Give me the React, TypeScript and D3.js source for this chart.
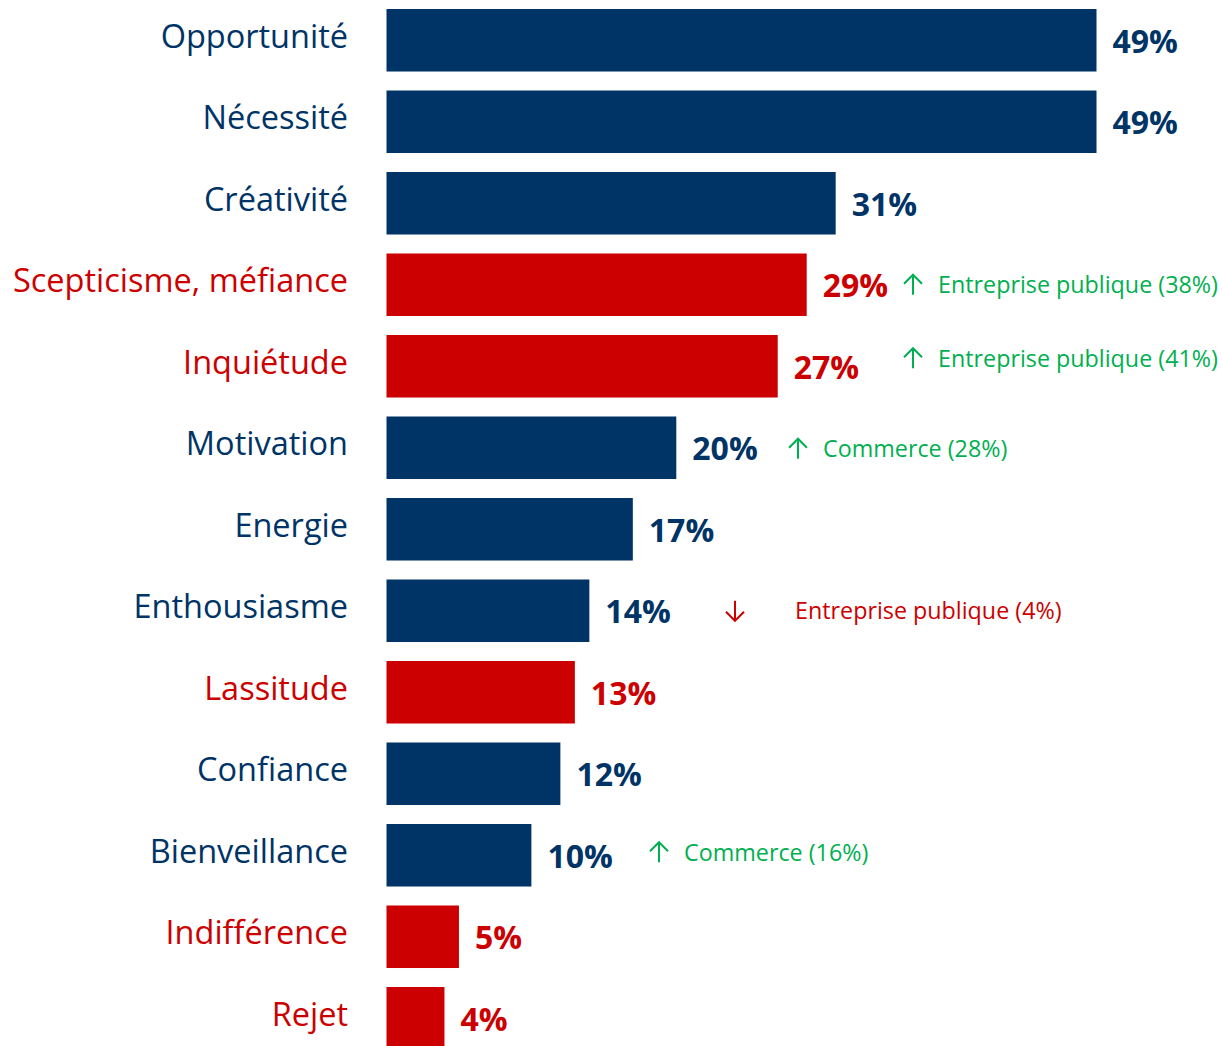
import React from "react";
import * as d3 from "d3";

const categories = [
  "Opportunité",
  "Nécessité",
  "Créativité",
  "Scepticisme, méfiance",
  "Inquiétude",
  "Motivation",
  "Energie",
  "Enthousiasme",
  "Lassitude",
  "Confiance",
  "Bienveillance",
  "Indifférence",
  "Rejet",
];
const values = [49, 49, 31, 29, 27, 20, 17, 14, 13, 12, 10, 5, 4];
const tone = ["pos", "pos", "pos", "neg", "neg", "pos", "pos", "pos", "neg", "pos", "pos", "neg", "neg"];

const annotationRows = [3, 4, 5, 7, 10];
const annotationDir = ["up", "up", "up", "down", "up"];
const annotationText = [
  "Entreprise publique (38%)",
  "Entreprise publique (41%)",
  "Commerce (28%)",
  "Entreprise publique (4%)",
  "Commerce (16%)",
];
// layout: arrow x in pixel, vertical shift
const annotationArrowX = [903, 903, 788, 725, 649];
const annotationDy = [0, -8, 1, 0, -3];

const W = 1222;
const H = 1046;
const NAVY = "#003466";
const RED = "#CC0000";
const GREEN = "#00B050";
const FONT = "'Open Sans', sans-serif";

export default function App() {
  const x = d3.scaleLinear().domain([0, 49]).range([386.5, 1096.5]);
  const step = 81.5;
  const pad = 0.233;
  const y = d3
    .scaleBand<string>()
    .domain(categories)
    .range([9 - (step * pad) / 2, 9 - (step * pad) / 2 + step * categories.length])
    .paddingInner(pad)
    .paddingOuter(pad / 2);
  const bw = y.bandwidth();

  return (
    <svg
      width={W}
      height={H}
      style={{ position: "absolute", left: 0, top: 0, background: "#fff" }}
      fontFamily={FONT}
    >
      {categories.map((c, i) => {
        const top = y(c)!;
        const cy = top + bw / 2;
        const col = tone[i] === "neg" ? RED : NAVY;
        return (
          <g key={c}>
            <rect x={x(0)} y={top} width={x(values[i]) - x(0)} height={bw} fill={col} />
            <text
              x={348}
              y={cy - 4}
              dy="0.36em"
              textAnchor="end"
              fontSize={32.5}
              fill={col}
            >
              {c}
            </text>
            <text
              x={x(values[i]) + 16}
              y={cy + 1}
              dy="0.36em"
              fontSize={32}
              fontWeight="bold"
              fill={col}
            >
              {values[i]}%
            </text>
          </g>
        );
      })}
      {annotationRows.map((r, k) => {
        const cy = y(categories[r])! + bw / 2 + annotationDy[k];
        const ax = annotationArrowX[k] + 10;
        const up = annotationDir[k] === "up";
        const col = up ? GREEN : RED;
        const tx = annotationArrowX[k] + (up ? 35 : 70);
        const y1 = cy - 10;
        const y2 = cy + 10;
        const path = up
          ? `M${ax},${y2} L${ax},${y1} M${ax - 9},${y1 + 9} L${ax},${y1} L${ax + 9},${y1 + 9}`
          : `M${ax},${y1} L${ax},${y2} M${ax - 9},${y2 - 9} L${ax},${y2} L${ax + 9},${y2 - 9}`;
        return (
          <g key={r}>
            <path d={path} stroke={col} strokeWidth={2} fill="none" />
            <text x={tx} y={cy} dy="0.36em" fontSize={23.3} fill={col}>
              {annotationText[k]}
            </text>
          </g>
        );
      })}
    </svg>
  );
}
